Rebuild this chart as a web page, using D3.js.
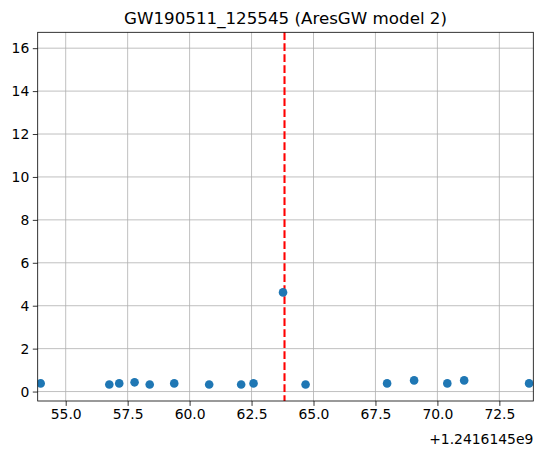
<!DOCTYPE html>
<html>
<head>
<meta charset="utf-8">
<script src="https://cdn.jsdelivr.net/npm/d3@7"></script>
<style>
  body { margin: 0; background: #fff; }
  text { font-family: "DejaVu Sans", sans-serif; fill: #000; }
</style>
</head>
<body>
<div id="my_dataviz"></div>
<script>
// data (time offsets relative to 1.2416145e9)
var times = [53.99, 56.76, 57.16, 57.78, 58.39, 59.38, 60.79, 62.08, 62.58, 63.77,
             64.68, 67.97, 69.06, 70.40, 71.08, 73.70]
var values = [0.38, 0.33, 0.38, 0.43, 0.33, 0.38, 0.33, 0.33, 0.38, 4.62,
              0.33, 0.38, 0.52, 0.38, 0.52, 0.38]
var eventTime = 63.83
var xTicks = [55.0, 57.5, 60.0, 62.5, 65.0, 67.5, 70.0, 72.5]
var yTicks = [0, 2, 4, 6, 8, 10, 12, 14, 16]
var offsetLabel = "+1.2416145e9"
var title = "GW190511_125545 (AresGW model 2)"

var W = 543, H = 453
var margin = {top: 32.3, right: 9.7, bottom: 52, left: 37.7},
    width = W - margin.left - margin.right,
    height = H - margin.top - margin.bottom

var svg = d3.select("#my_dataviz")
  .append("svg")
    .attr("width", W)
    .attr("height", H)
  .append("g")
    .attr("transform", "translate(" + margin.left + "," + margin.top + ")")

var x = d3.scaleLinear()
  .domain([53.87, 73.87])
  .range([0, width])

var y = d3.scaleLinear()
  .domain([-0.44, 16.74])
  .range([height, 0])

// grid
svg.append("g")
  .selectAll("line.gx")
  .data(xTicks)
  .enter()
  .append("line")
    .attr("x1", function(d) { return x(d) })
    .attr("x2", function(d) { return x(d) })
    .attr("y1", 0)
    .attr("y2", height)
    .style("stroke", "#b0b0b0")
    .style("stroke-width", 0.8)

svg.append("g")
  .selectAll("line.gy")
  .data(yTicks)
  .enter()
  .append("line")
    .attr("x1", 0)
    .attr("x2", width)
    .attr("y1", function(d) { return y(d) })
    .attr("y2", function(d) { return y(d) })
    .style("stroke", "#b0b0b0")
    .style("stroke-width", 0.8)

// axes
var xAxis = svg.append("g")
  .attr("transform", "translate(0," + height + ")")
  .call(d3.axisBottom(x).tickValues(xTicks).tickFormat(d3.format(".1f")).tickSize(4.9).tickPadding(3.5))
var yAxis = svg.append("g")
  .call(d3.axisLeft(y).tickValues(yTicks).tickFormat(d3.format("d")).tickSize(4.9).tickPadding(3.5))

svg.selectAll(".tick text")
  .style("font-family", "DejaVu Sans, sans-serif")
  .style("font-size", "13.9px")
  .style("fill", "#000")
svg.selectAll(".tick line").style("stroke", "#000").style("stroke-width", 0.8)
svg.selectAll(".domain").remove()

// event line
svg.append("line")
  .attr("x1", x(eventTime))
  .attr("x2", x(eventTime))
  .attr("y1", 0)
  .attr("y2", height)
  .style("stroke", "red")
  .style("stroke-width", 2.08)
  .style("stroke-dasharray", "7.7,3.3")

// points
var clip = svg.append("clipPath").attr("id", "clip")
clip.append("rect").attr("width", width).attr("height", height)

svg.append("g")
  .attr("clip-path", "url(#clip)")
  .selectAll("circle")
  .data(times)
  .enter()
  .append("circle")
    .attr("cx", function(d) { return x(d) })
    .attr("cy", function(d, i) { return y(values[i]) })
    .attr("r", 4.3)
    .style("fill", "#1f77b4")

// frame
svg.append("rect")
  .attr("width", width)
  .attr("height", height)
  .style("fill", "none")
  .style("stroke", "#000")
  .style("stroke-width", 0.8)

// title
svg.append("text")
  .attr("text-anchor", "middle")
  .attr("x", width / 2)
  .attr("y", -8)
  .style("font-size", "16.7px")
  .text(title)

// offset text
svg.append("text")
  .attr("text-anchor", "end")
  .attr("x", width)
  .attr("y", height + 43)
  .style("font-size", "13.9px")
  .text(offsetLabel)
</script>
</body>
</html>
